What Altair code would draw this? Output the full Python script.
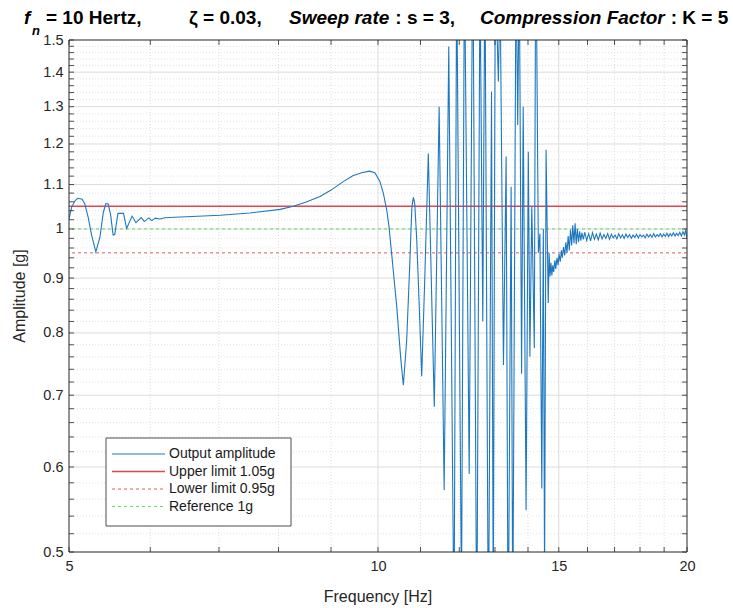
import altair as alt
import pandas as pd

# ------------------------------------------------------------------ data
freq = [
    5.00, 5.03, 5.07, 5.10, 5.15, 5.18, 5.22, 5.26, 5.31, 5.36, 5.40, 5.43, 5.46, 5.49,
    5.52, 5.54, 5.58, 5.65, 5.69, 5.76, 5.81, 5.88, 5.92, 5.98, 6.02, 6.07, 6.13, 6.20,
    6.34, 7.02, 7.50, 8.03, 8.27, 8.50, 8.78, 9.00, 9.25, 9.45, 9.64, 9.81, 9.93, 10.04,
    10.12, 10.20, 10.25, 10.31, 10.43, 10.52, 10.585, 10.665, 10.73, 10.79, 10.826, 10.86,
    10.908, 10.97, 11.03, 11.11, 11.195, 11.346, 11.47, 11.60, 11.72, 11.86, 11.93, 12.06,
    12.14, 12.27, 12.37, 12.48, 12.57, 12.65, 12.71, 12.81, 12.90, 12.95, 13.01, 13.10,
    13.15, 13.25, 13.33, 13.39, 13.48, 13.53, 13.63, 13.68, 13.73, 13.80, 13.85, 13.94,
    14.01, 14.06, 14.12, 14.20, 14.24, 14.27, 14.33, 14.38, 14.44, 14.49, 14.53, 14.58,
    14.65, 14.68, 14.71, 14.74, 14.77, 14.80, 14.83, 14.87, 14.90, 14.94, 14.98, 15.01,
    15.05, 15.09, 15.12, 15.16, 15.20, 15.24, 15.28, 15.32, 15.36, 15.40, 15.44, 15.48,
    15.52, 15.56, 15.60, 15.64, 15.68, 15.72, 15.76, 15.80, 15.85, 15.90, 15.97, 16.04,
    16.11, 16.18, 16.25, 16.32, 16.39, 16.46, 16.53, 16.60, 16.67, 16.74, 16.81, 16.88,
    16.95, 17.02, 17.09, 17.16, 17.23, 17.30, 17.37, 17.44, 17.51, 17.58, 17.65, 17.72,
    17.79, 17.86, 17.93, 18.00, 18.07, 18.14, 18.21, 18.28, 18.35, 18.42, 18.49, 18.56,
    18.63, 18.70, 18.77, 18.84, 18.91, 18.98, 19.05, 19.12, 19.19, 19.26, 19.33, 19.40,
    19.47, 19.54, 19.61, 19.68, 19.75, 19.82, 19.89, 19.94, 20.00,
]
amp = [
    1.022, 1.048, 1.063, 1.068, 1.066, 1.055, 1.025, 0.987, 0.952, 0.983, 1.036, 1.056, 1.055, 1.030,
    0.987, 0.988, 1.034, 1.034, 1.001, 1.028, 1.0135, 1.0245, 1.016, 1.024, 1.018, 1.0235, 1.0215, 1.0245,
    1.0254, 1.030, 1.035, 1.043, 1.050, 1.059, 1.072, 1.087, 1.107, 1.121, 1.128, 1.132, 1.128, 1.108,
    1.080, 1.040, 1.005, 0.949, 0.846, 0.760, 0.715, 0.788, 0.909, 1.049, 1.070, 1.055,
    0.977, 0.846, 0.729, 0.909, 1.176, 0.683, 1.300, 0.571, 1.479, 0.420, 1.750, 0.450,
    1.800, 0.591, 1.900, 0.400, 1.750, 0.820, 1.800, 0.400, 1.343, 0.440, 1.750, 1.372,
    1.700, 0.747, 1.168, 0.400, 1.095, 0.420, 1.800, 1.250, 1.750, 0.733, 1.300, 0.547,
    1.180, 0.760, 1.050, 0.774, 1.700, 1.600, 0.950, 0.990, 0.573, 1.000, 0.470, 1.185,
    0.853, 0.950, 0.903, 0.930, 0.905, 0.925, 0.912, 0.935, 0.918, 0.940, 0.925, 0.948,
    0.932, 0.955, 0.940, 0.962, 0.945, 0.972, 0.950, 0.985, 0.955, 0.998, 0.965, 1.008,
    0.970, 1.012, 0.968, 1.000, 0.972, 0.995, 0.975, 0.992, 0.978, 0.993, 0.976, 0.990,
    0.975, 0.992, 0.978, 0.989, 0.977, 0.991, 0.979, 0.988, 0.980, 0.990, 0.978, 0.989,
    0.981, 0.987, 0.979, 0.990, 0.981, 0.988, 0.980, 0.989, 0.982, 0.988, 0.980, 0.987,
    0.982, 0.989, 0.981, 0.988, 0.983, 0.987, 0.981, 0.989, 0.983, 0.988, 0.982, 0.990,
    0.983, 0.988, 0.984, 0.990, 0.983, 0.989, 0.984, 0.991, 0.984, 0.990, 0.985, 0.992,
    0.985, 0.991, 0.986, 0.993, 0.985, 0.994, 0.987, 0.998, 0.979,
]

upper_limit = [1.05]
lower_limit = [0.95]
reference = [1.0]

x_ticks = [5, 10, 15, 20]
x_minor = [6, 7, 8, 9, 11, 12, 13, 14, 16, 17, 18, 19]
y_ticks = [0.5, 0.6, 0.7, 0.8, 0.9, 1.0, 1.1, 1.2, 1.3, 1.4, 1.5]
y_minor = [0.52, 0.54, 0.56, 0.58, 0.62, 0.64, 0.66, 0.68, 0.72, 0.74, 0.76, 0.78,
           0.82, 0.84, 0.86, 0.88, 0.92, 0.94, 0.96, 0.98, 1.02, 1.04, 1.06, 1.08,
           1.12, 1.14, 1.16, 1.18, 1.22, 1.24, 1.26, 1.28, 1.32, 1.34, 1.36, 1.38,
           1.42, 1.44, 1.46, 1.48]

legend_labels = ["Output amplitude", "Upper limit 1.05g", "Lower limit 0.95g", "Reference 1g"]

# ------------------------------------------------------------------ layout
W, H = 618, 512
LEFT, TOP = 69, 40
FONT = "Liberation Sans"
INK = "#262626"
BLUE = "#1f78bf"
RED = "#e4454d"
RED_D = "#e8585d"
GREEN = "#66d966"

xs = alt.Scale(type="log", domain=[5, 20], nice=False)
ys = alt.Scale(type="log", domain=[0.5, 1.5], nice=False)

XAX = alt.Axis(values=x_ticks, format="d", title=None, domain=False, ticks=False, grid=False,
               labelFontSize=14.5, labelPadding=7, labelColor=INK, labelFont=FONT,
               labelFlush=False, labelOverlap=False)
YAX = alt.Axis(values=y_ticks, format=".1~f", title=None, domain=False, ticks=False, grid=False,
               labelFontSize=14.5, labelPadding=6, labelColor=INK, labelFont=FONT,
               labelFlush=False, labelOverlap=False)

one = pd.DataFrame({"k": [0]})
df = pd.DataFrame({"f": freq, "a": amp, "i": list(range(len(freq)))})


def vals(v):
    return pd.DataFrame({"v": v})


def Yv():
    return alt.Y("v:Q", scale=ys, axis=YAX)


def Xv():
    return alt.X("v:Q", scale=xs, axis=XAX)


def hgrid(v, color, dash=None):
    kw = dict(color=color, strokeWidth=1)
    if dash:
        kw["strokeDash"] = dash
    return alt.Chart(vals(v)).mark_rule(**kw).encode(y=Yv())


def vgrid(v, color, dash=None):
    kw = dict(color=color, strokeWidth=1)
    if dash:
        kw["strokeDash"] = dash
    return alt.Chart(vals(v)).mark_rule(**kw).encode(x=Xv())


layers = []
layers.append(hgrid(y_minor, "#e3e3e3", [1, 2]))
layers.append(vgrid(x_minor, "#dedede", [1, 2]))
layers.append(hgrid([v for v in y_ticks if 0.5 < v < 1.5], "#dcdcdc"))
layers.append(vgrid([10, 15], "#dcdcdc"))

# limit lines
layers.append(alt.Chart(vals(upper_limit)).mark_rule(color=RED, strokeWidth=1.5).encode(y=Yv()))
layers.append(alt.Chart(vals(lower_limit)).mark_rule(
    color=RED_D, strokeWidth=1, strokeDash=[3, 3]).encode(y=Yv()))
layers.append(alt.Chart(vals(reference)).mark_rule(
    color=GREEN, strokeWidth=1, strokeDash=[3, 3]).encode(y=Yv()))

# data line
layers.append(alt.Chart(df).mark_line(color=BLUE, strokeWidth=1.1, clip=True).encode(
    x=alt.X("f:Q", scale=xs, axis=XAX),
    y=alt.Y("a:Q", scale=ys, axis=YAX),
    order=alt.Order("i:Q"),
))

# inward ticks on all four sides
allx = sorted(x_ticks + x_minor)
ally = sorted(y_ticks + y_minor)
tick = dict(color=INK, strokeWidth=0.8)
layers.append(alt.Chart(vals(ally)).mark_rule(**tick).encode(
    y=Yv(), x=alt.value(0), x2=alt.value(5)))
layers.append(alt.Chart(vals(ally)).mark_rule(**tick).encode(
    y=Yv(), x=alt.value(W - 5), x2=alt.value(W)))
layers.append(alt.Chart(vals(allx)).mark_rule(**tick).encode(
    x=Xv(), y=alt.value(H - 5), y2=alt.value(H)))
layers.append(alt.Chart(vals(allx)).mark_rule(**tick).encode(
    x=Xv(), y=alt.value(0), y2=alt.value(5)))

# frame
layers.append(alt.Chart(one).mark_rect(fillOpacity=0, stroke=INK, strokeWidth=1).encode(
    x=alt.value(0), x2=alt.value(W), y=alt.value(0), y2=alt.value(H)))

# legend
LX0, LX1, LY0, LY1 = 37, 222, 398, 486
layers.append(alt.Chart(one).mark_rect(fill="white", stroke="#4d4d4d", strokeWidth=1).encode(
    x=alt.value(LX0), x2=alt.value(LX1), y=alt.value(LY0), y2=alt.value(LY1)))
row_y = [414, 431.5, 449, 466.5]
styles = [
    dict(color=BLUE, strokeWidth=1),
    dict(color=RED, strokeWidth=1.5),
    dict(color=RED_D, strokeWidth=1, strokeDash=[3, 3]),
    dict(color=GREEN, strokeWidth=1, strokeDash=[3, 3]),
]
for lab, ry, st in zip(legend_labels, row_y, styles):
    layers.append(alt.Chart(one).mark_rule(**st).encode(
        x=alt.value(43), x2=alt.value(96), y=alt.value(ry)))
    layers.append(alt.Chart(one).mark_text(
        align="left", baseline="middle", font=FONT, fontSize=14, color="#1a1a1a").encode(
        x=alt.value(100), y=alt.value(ry), text=alt.value(lab)))


def txt(s, x, y, size, weight="normal", style="normal", align="left",
        baseline="alphabetic", angle=0, color="#000000"):
    kw = dict(align=align, baseline=baseline, font=FONT, fontSize=size,
              fontWeight=weight, fontStyle=style, color=color)
    if angle:
        kw["angle"] = angle
    return alt.Chart(one).mark_text(**kw).encode(
        x=alt.value(x), y=alt.value(y), text=alt.value(s))


# axis titles
layers.append(txt("Frequency [Hz]", W / 2, 557, 16, align="center", baseline="middle", color=INK))
layers.append(txt("Amplitude [g]", -49, H / 2, 16, align="center", baseline="middle", angle=270, color=INK))

# title (mixed styles)
AW = {' ': 278, '=': 584, '0': 556, '1': 556, '3': 556, '5': 556, '.': 278,
      ',': 278, ':': 333, 'H': 722, 'e': 556, 'r': 389, 't': 333, 'z': 500, 'S': 667,
      'w': 778, 'p': 611, 'a': 556, 's': 556, 'C': 722, 'o': 611, 'm': 889, 'i': 278,
      'n': 611, 'F': 611, 'c': 556, 'K': 722, 'f': 333}


def tw(s, size):
    return sum(AW.get(ch, 556) for ch in s) * size / 1000.0


TS = 19
TB = -16
GAP = 6
layers.append(txt("f", -45, TB, TS, "bold", "italic"))
layers.append(txt("n", -37, -5, 13, "bold", "italic"))
layers.append(txt("= 10 Hertz,", -23, TB, TS, "bold"))
layers.append(txt("\u03b6 = 0.03,", 120, TB, TS, "bold"))
x0 = 220
layers.append(txt("Sweep rate", x0, TB, TS, "bold", "italic"))
layers.append(txt(": s = 3,", x0 + tw("Sweep rate", TS) + GAP, TB, TS, "bold"))
x1 = 411
layers.append(txt("Compression Factor", x1, TB, TS, "bold", "italic"))
layers.append(txt(": K = 5", x1 + tw("Compression Factor", TS) + GAP, TB, TS, "bold"))

chart = alt.layer(*layers).properties(
    width=W, height=H,
    autosize=alt.AutoSizeParams(type="none"),
    padding={"left": LEFT, "top": TOP, "right": 733 - LEFT - W, "bottom": 608 - TOP - H},
).configure_view(strokeWidth=0)

chart.save("out.html", embed_options={"renderer": "svg", "actions": False})
